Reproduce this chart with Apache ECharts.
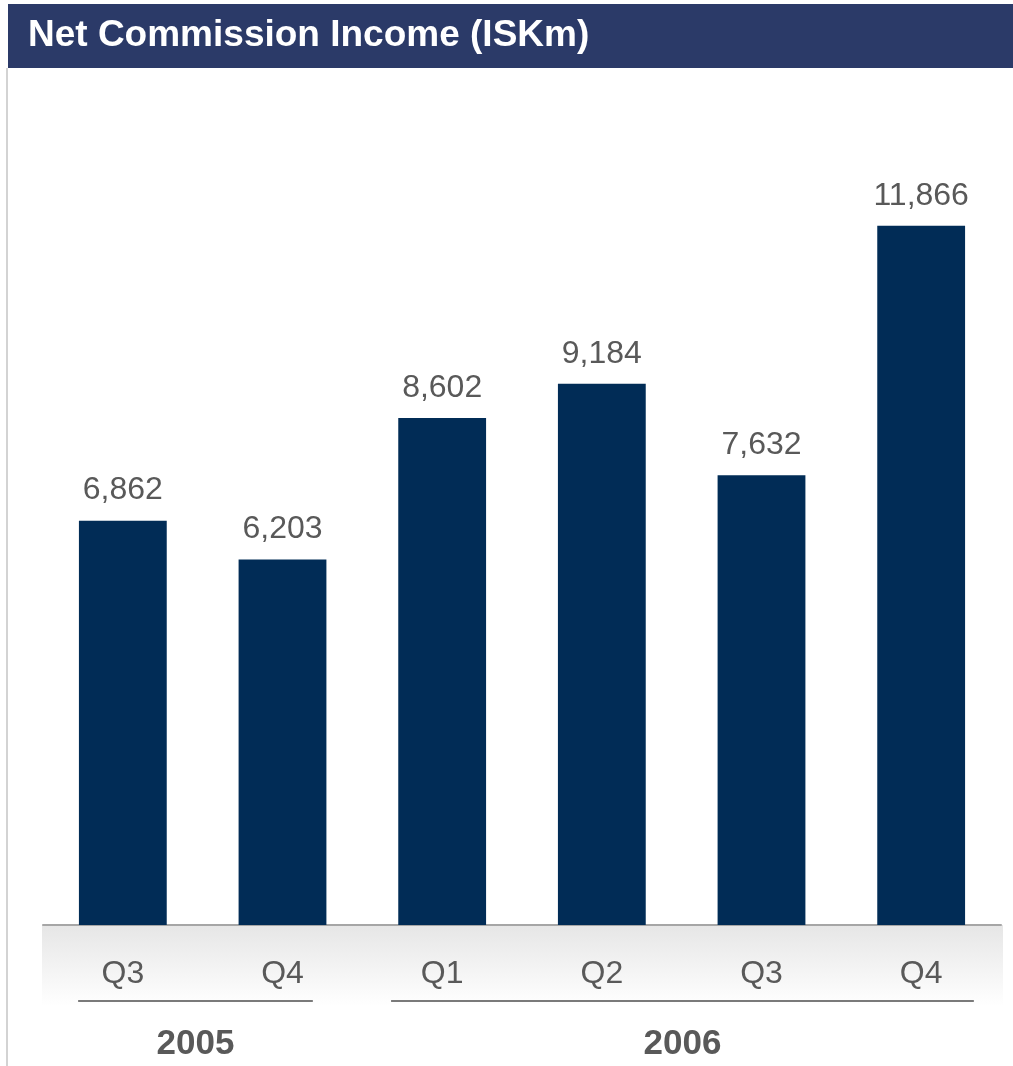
<!DOCTYPE html>
<html>
<head>
<meta charset="utf-8">
<title>Net Commission Income (ISKm)</title>
<script src="https://cdn.jsdelivr.net/npm/echarts@6/dist/echarts.min.js"></script>
<style>
  html, body { margin: 0; padding: 0; background: #ffffff; }
  #chart { width: 1013px; height: 1066px; }
</style>
</head>
<body>
<div id="chart"></div>
<script>
// Quarterly net commission income, ISK millions
const quarters = ['Q3', 'Q4', 'Q1', 'Q2', 'Q3', 'Q4'];
const income = [6862, 6203, 8602, 9184, 7632, 11866];
const years = ['2005', '2006'];
// first and last quarter index belonging to each year
const yearFirst = [0, 2];
const yearLast = [1, 5];

const TEXT = '#595959';
const FONT = '"Liberation Sans", Arial, sans-serif';

const chart = echarts.init(document.getElementById('chart'), null, { renderer: 'canvas' });

const option = {
  animation: false,
  backgroundColor: '#ffffff',
  grid: { left: 43, right: 12, top: 100, bottom: 141, containLabel: false },
  xAxis: {
    type: 'category',
    data: quarters,
    axisLine: { show: true, lineStyle: { color: '#a6a6a6', width: 2 } },
    axisTick: { show: false },
    axisLabel: { color: TEXT, fontSize: 32, fontFamily: FONT, margin: 33 },
    splitLine: { show: false }
  },
  yAxis: {
    type: 'value',
    min: 0,
    max: 14000,
    show: false
  },
  series: [{
    type: 'bar',
    data: income,
    barWidth: '55%',
    itemStyle: { color: '#012C56' },
    label: {
      show: true,
      position: 'top',
      distance: 14,
      color: TEXT,
      fontSize: 32,
      fontFamily: FONT,
      formatter: p => p.value.toLocaleString('en-US')
    }
  }]
};

chart.setOption(option);

// Header band, frame line, shaded axis strip and year brackets
function decorate() {
  const cx = i => chart.convertToPixel({ xAxisIndex: 0 }, i);
  const baseY = chart.convertToPixel({ yAxisIndex: 0 }, 0);
  const band = cx(1) - cx(0);
  const elements = [
    {
      type: 'rect', z: 100,
      shape: { x: 8, y: 4, width: 1005, height: 64 },
      style: { fill: '#2B3A68' }
    },
    {
      type: 'text', z: 101,
      style: {
        x: 28, y: 36, text: 'Net Commission Income (ISKm)',
        fill: '#ffffff', font: 'bold 37px ' + FONT, verticalAlign: 'middle'
      }
    },
    {
      type: 'line', z: 100,
      shape: { x1: 7, y1: 68, x2: 7, y2: 1066 },
      style: { stroke: '#c4c4c4', lineWidth: 1.5 }
    },
    {
      type: 'rect', z: -1,
      shape: { x: 42, y: baseY, width: 961, height: 81 },
      style: {
        fill: new echarts.graphic.LinearGradient(0, 0, 0, 1, [
          { offset: 0, color: '#e6e6e6' },
          { offset: 1, color: '#ffffff' }
        ])
      }
    }
  ];
  // bracket extents relative to the bar band
  const leftPad = [0.28, 0.32];
  const rightPad = [0.19, 0.33];
  years.forEach((y, k) => {
    const x1 = cx(yearFirst[k]) - band * leftPad[k];
    const x2 = cx(yearLast[k]) + band * rightPad[k];
    elements.push({
      type: 'line', z: 100,
      shape: { x1: x1, y1: baseY + 76, x2: x2, y2: baseY + 76 },
      style: { stroke: '#7a7a7a', lineWidth: 2 }
    });
    elements.push({
      type: 'text', z: 100,
      style: {
        x: (x1 + x2) / 2, y: baseY + 119, text: y,
        fill: TEXT, font: 'bold 35px ' + FONT,
        align: 'center', verticalAlign: 'middle'
      }
    });
  });
  chart.setOption({ graphic: { elements: elements } });
}

decorate();
</script>
</body>
</html>
